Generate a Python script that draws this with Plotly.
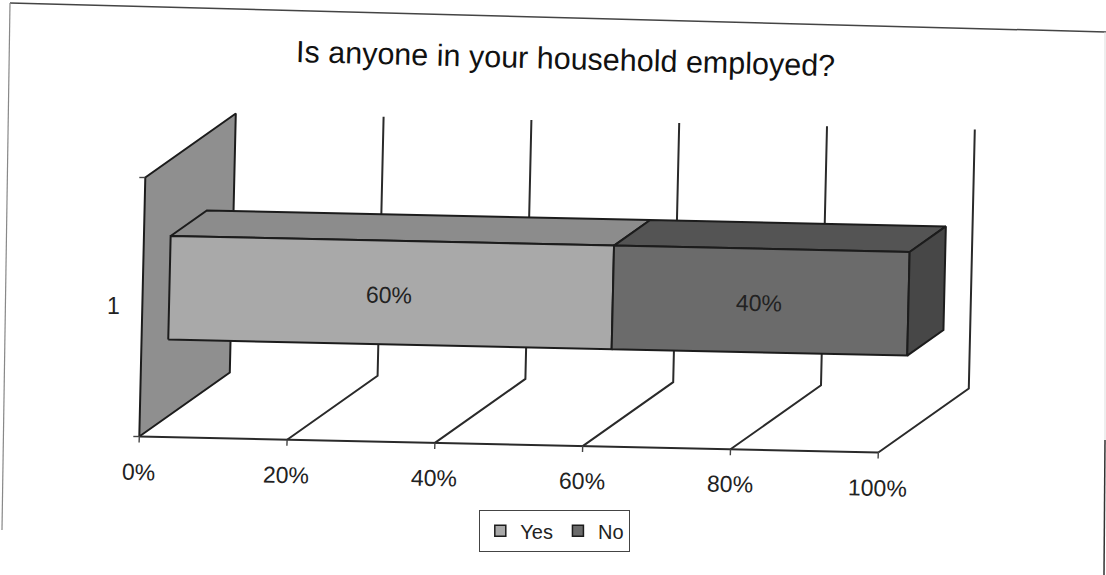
import plotly.graph_objects as go

# ---- data ----
title = "Is anyone in your household employed?"
category = ["1"]
series_names = ["Yes", "No"]
yes_values = [60]
no_values = [40]
tick_values = [0, 20, 40, 60, 80, 100]
tick_labels = ["0%", "20%", "40%", "60%", "80%", "100%"]

# ---- oblique projection of the skewed 3-D chart box onto the page ----
ORIGIN = (139.3, 436.5)
PER_PCT = (7.39, 0.16)
DEPTH = (90.5, -64.0)
HEIGHT = (6.0, -259.0)


def proj(v, d, h):
    return (ORIGIN[0] + v * PER_PCT[0] + d * DEPTH[0] + h * HEIGHT[0],
            ORIGIN[1] + v * PER_PCT[1] + d * DEPTH[1] + h * HEIGHT[1])


fig = go.Figure()
INK = "#1c1c1c"


def poly(points, fill, line=INK, width=2):
    xs, ys = zip(*(points + points[:1]))
    fig.add_trace(go.Scatter(x=xs, y=ys, mode="lines", fill="toself", fillcolor=fill,
                             line=dict(color=line, width=width), showlegend=False, hoverinfo="skip"))


def path(points, color=INK, width=2):
    xs, ys = zip(*points)
    fig.add_trace(go.Scatter(x=xs, y=ys, mode="lines", line=dict(color=color, width=width),
                             showlegend=False, hoverinfo="skip"))


# side wall
poly([proj(0, 0, 0), proj(0, 1, 0), proj(0, 1, 1), proj(0, 0, 1)], "#8f8f8f")
# axis base line, floor and wall grid lines, ticks
path([proj(0, 0, 0), proj(100, 0, 0)], "#2a2a2a")
for v in tick_values[1:]:
    path([proj(v, 0, 0), proj(v, 1, 0), proj(v, 1, 1)], "#2a2a2a")
for v in tick_values:
    x, y = proj(v, 0, 0)
    path([(x, y), (x - 0.2, y + 6)], "#444444", 1.4)
for h in (0, 1):
    x, y = proj(0, 0, h)
    path([(x - 6, y), (x, y)], "#444444", 1.4)

# stacked bar
D0, D1, H0, H1 = 0.3, 0.7, 0.3, 0.7
FACE = {"Yes": ("#a9a9a9", "#8c8c8c"), "No": ("#6b6b6b", "#545454")}
SIDE = "#474747"
start = 0
labels = []
for name, val in zip(series_names, (yes_values[0], no_values[0])):
    end = start + val
    front, top = FACE[name]
    poly([proj(start, D0, H1), proj(end, D0, H1), proj(end, D1, H1), proj(start, D1, H1)], top)
    poly([proj(start, D0, H0), proj(end, D0, H0), proj(end, D0, H1), proj(start, D0, H1)], front)
    labels.append(((start + end) / 2, val))
    start = end
poly([proj(100, D0, H0), proj(100, D1, H0), proj(100, D1, H1), proj(100, D0, H1)], SIDE)

# legend entries
for name in series_names:
    fig.add_trace(go.Scatter(x=[None], y=[None], mode="markers", name=name,
                             marker=dict(symbol="square", size=11, color=FACE[name][0],
                                         line=dict(color=INK, width=1.5))))

ANGLE = 1.5
FONT = "Liberation Sans, Arial, sans-serif"
ann = [dict(x=565, y=58, text=title, font=dict(size=30.5, color="#111111"))]
for v, lab in zip(tick_values, tick_labels):
    x, y = proj(v, 0, 0)
    ann.append(dict(x=x - 1, y=y + 35, text=lab, font=dict(size=23, color="#222222")))
for mid, val in labels:
    x, y = proj(mid, D0, 0.5)
    ann.append(dict(x=x - 2, y=y + 2, text=f"{val}%", font=dict(size=23, color="#222222")))
ann.append(dict(x=113, y=306, text=category[0], font=dict(size=23, color="#222222"), textangle=0))
annotations = []
for a in ann:
    a.setdefault("textangle", ANGLE)
    a.update(xref="x", yref="y", showarrow=False, xanchor="center", yanchor="middle")
    annotations.append(a)

shapes = [
    dict(type="line", xref="x", yref="y", x0=10, y0=3, x1=1106, y1=32, line=dict(color="#444444", width=1.5)),
    dict(type="line", xref="x", yref="y", x0=10, y0=3, x1=2, y1=530, line=dict(color="#888888", width=1.2)),
    dict(type="line", xref="x", yref="y", x0=1105, y0=32, x1=1105, y1=440, line=dict(color="#dddddd", width=1)),
    dict(type="line", xref="x", yref="y", x0=1105, y0=440, x1=1104, y1=575, line=dict(color="#333333", width=1.5)),
]

fig.update_layout(
    width=1106, height=575, autosize=False,
    margin=dict(l=0, r=0, t=0, b=0),
    paper_bgcolor="#ffffff", plot_bgcolor="#ffffff",
    font=dict(family=FONT),
    xaxis=dict(range=[0, 1106], visible=False, fixedrange=True),
    yaxis=dict(range=[575, 0], visible=False, fixedrange=True),
    annotations=annotations, shapes=shapes,
    legend=dict(orientation="h", x=479 / 1106, y=1 - 510 / 575, xanchor="left", yanchor="top",
                bordercolor="#444444", borderwidth=1.3, bgcolor="#ffffff",
                font=dict(size=20, color="#222222"), itemwidth=30),
)
fig.write_html("out.html", config={"displayModeBar": False},
               post_script="document.body.style.margin='0';document.documentElement.style.overflow='hidden';")
